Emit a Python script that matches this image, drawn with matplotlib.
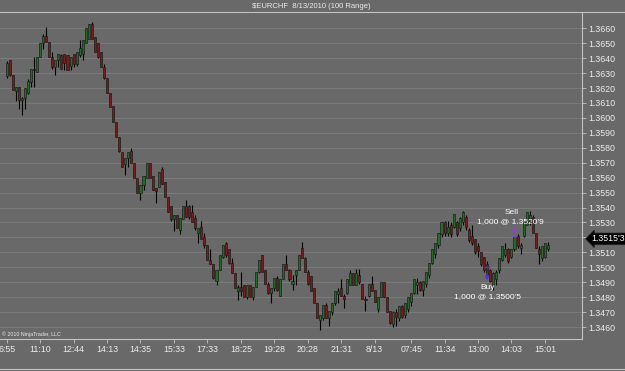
import numpy as np
import matplotlib
matplotlib.use('Agg')
import matplotlib.pyplot as plt
from matplotlib.lines import Line2D
from matplotlib.ticker import FormatStrFormatter

plt.rcParams['font.family'] = ['Liberation Sans', 'DejaVu Sans']

title = r'\$EURCHF  8/13/2010 (100 Range)'

# range bars, prices in pips (1.3637 -> 13637)
opens = [13628, 13639, 13629, 13618, 13621, 13612, 13613, 13617, 13624, 13633,
         13631, 13641, 13650, 13655, 13651, 13641, 13634, 13639, 13642, 13643,
         13642, 13635, 13643, 13636, 13642, 13643, 13650, 13653, 13663, 13654,
         13650, 13644, 13634, 13627, 13617, 13608, 13597, 13587, 13577, 13569,
         13573, 13578, 13570, 13560, 13550, 13555, 13560, 13570, 13561, 13553,
         13554, 13566, 13557, 13547, 13541, 13532, 13535, 13525, 13532, 13541,
         13541, 13537, 13533, 13523, 13527, 13520, 13515, 13505, 13502, 13491,
         13498, 13507, 13516, 13512, 13503, 13496, 13484, 13487, 13488, 13480,
         13488, 13480, 13487, 13497, 13508, 13498, 13489, 13483, 13486, 13493,
         13481, 13492, 13502, 13498, 13489, 13495, 13498, 13513, 13506, 13497,
         13494, 13486, 13476, 13465, 13466, 13475, 13466, 13470, 13476, 13482,
         13486, 13481, 13483, 13488, 13496, 13488, 13495, 13489, 13479, 13481,
         13489, 13485, 13472, 13480, 13490, 13480, 13471, 13462, 13470, 13466,
         13474, 13468, 13472, 13477, 13483, 13488, 13490, 13485, 13489, 13495,
         13503, 13509, 13515, 13522, 13530, 13523, 13528, 13527, 13530, 13526,
         13530, 13534, 13525, 13521, 13519, 13514, 13510, 13507, 13502, 13498,
         13488, 13492, 13498, 13505, 13508, 13512, 13507, 13512, 13521, 13513,
         13521, 13528, 13531, 13534, 13523, 13512, 13506, 13507, 13512]
highs = [13638, 13639, 13629, 13621, 13621, 13614, 13620, 13626, 13633, 13641,
         13641, 13650, 13656, 13661, 13651, 13644, 13639, 13643, 13643, 13643,
         13642, 13641, 13643, 13644, 13652, 13652, 13660, 13663, 13664, 13654,
         13650, 13644, 13636, 13627, 13617, 13608, 13597, 13587, 13577, 13573,
         13577, 13580, 13570, 13560, 13555, 13561, 13570, 13570, 13561, 13553,
         13564, 13567, 13557, 13547, 13541, 13535, 13535, 13533, 13541, 13545,
         13542, 13542, 13535, 13526, 13531, 13523, 13515, 13512, 13502, 13498,
         13508, 13515, 13517, 13512, 13506, 13496, 13488, 13497, 13488, 13488,
         13488, 13487, 13497, 13505, 13508, 13498, 13490, 13486, 13493, 13494,
         13492, 13502, 13508, 13499, 13495, 13498, 13508, 13517, 13507, 13498,
         13494, 13486, 13476, 13468, 13475, 13476, 13471, 13476, 13484, 13486,
         13492, 13482, 13492, 13498, 13496, 13499, 13499, 13489, 13481, 13489,
         13494, 13485, 13480, 13490, 13490, 13480, 13471, 13471, 13472, 13474,
         13475, 13476, 13480, 13483, 13492, 13493, 13491, 13491, 13497, 13503,
         13512, 13516, 13523, 13530, 13531, 13531, 13530, 13536, 13531, 13534,
         13538, 13535, 13526, 13528, 13519, 13516, 13510, 13507, 13504, 13499,
         13497, 13498, 13506, 13514, 13516, 13513, 13512, 13521, 13522, 13516,
         13530, 13537, 13538, 13535, 13523, 13514, 13514, 13516, 13517]
lows = [13627, 13628, 13619, 13611, 13606, 13602, 13606, 13616, 13621, 13621,
        13631, 13641, 13646, 13651, 13641, 13633, 13629, 13634, 13633, 13632,
        13632, 13632, 13634, 13635, 13641, 13639, 13650, 13653, 13653, 13644,
        13640, 13634, 13626, 13617, 13607, 13597, 13587, 13577, 13567, 13562,
        13567, 13570, 13560, 13550, 13545, 13552, 13560, 13560, 13552, 13543,
        13554, 13556, 13547, 13537, 13531, 13524, 13526, 13522, 13532, 13534,
        13532, 13530, 13525, 13516, 13519, 13513, 13505, 13502, 13492, 13488,
        13498, 13506, 13507, 13502, 13496, 13486, 13478, 13481, 13480, 13479,
        13480, 13478, 13487, 13496, 13497, 13489, 13482, 13476, 13484, 13484,
        13481, 13492, 13498, 13491, 13485, 13488, 13498, 13506, 13497, 13488,
        13484, 13476, 13466, 13458, 13465, 13466, 13461, 13468, 13475, 13476,
        13481, 13473, 13482, 13488, 13488, 13488, 13489, 13479, 13471, 13480,
        13484, 13477, 13470, 13480, 13480, 13470, 13462, 13460, 13461, 13464,
        13466, 13466, 13470, 13474, 13482, 13482, 13484, 13481, 13487, 13493,
        13502, 13506, 13513, 13520, 13521, 13521, 13520, 13526, 13521, 13524,
        13528, 13525, 13517, 13515, 13509, 13507, 13501, 13497, 13494, 13490,
        13485, 13488, 13496, 13504, 13507, 13503, 13506, 13511, 13513, 13509,
        13520, 13528, 13528, 13523, 13513, 13502, 13504, 13506, 13511]
closes = [13637, 13629, 13619, 13621, 13612, 13613, 13620, 13625, 13633, 13632,
          13641, 13650, 13655, 13651, 13641, 13634, 13639, 13643, 13633, 13637,
          13632, 13641, 13636, 13644, 13647, 13652, 13660, 13663, 13653, 13644,
          13641, 13634, 13627, 13617, 13607, 13597, 13587, 13578, 13567, 13573,
          13577, 13570, 13560, 13550, 13555, 13561, 13570, 13560, 13552, 13551,
          13564, 13556, 13547, 13537, 13532, 13535, 13526, 13533, 13541, 13534,
          13534, 13530, 13526, 13526, 13519, 13515, 13505, 13502, 13493, 13498,
          13508, 13515, 13508, 13503, 13496, 13486, 13487, 13484, 13480, 13488,
          13480, 13487, 13497, 13505, 13497, 13489, 13483, 13486, 13493, 13485,
          13492, 13502, 13498, 13492, 13491, 13498, 13508, 13506, 13497, 13489,
          13484, 13476, 13466, 13468, 13475, 13466, 13471, 13476, 13484, 13484,
          13481, 13479, 13492, 13496, 13488, 13496, 13490, 13479, 13478, 13489,
          13484, 13477, 13480, 13490, 13480, 13470, 13463, 13470, 13467, 13474,
          13467, 13476, 13480, 13483, 13492, 13490, 13485, 13491, 13497, 13503,
          13512, 13516, 13523, 13530, 13523, 13527, 13522, 13536, 13522, 13533,
          13537, 13527, 13518, 13516, 13510, 13511, 13502, 13498, 13494, 13491,
          13496, 13497, 13506, 13514, 13512, 13504, 13512, 13521, 13514, 13515,
          13530, 13537, 13535, 13523, 13513, 13509, 13514, 13516, 13515]

tick_bars = [0, 11, 22, 33, 44, 55, 66, 77, 88, 99, 110, 121, 133, 144, 155, 166, 177]
tick_labels = ['6:55', '11:10', '12:44', '14:13', '14:35', '15:33', '17:33', '18:25',
               '19:28', '20:28', '21:31', '8/13', '07:45', '11:34', '13:00', '14:03', '15:01']

buy_bar, buy_price = 158, 1.35005
sell_bar, sell_price = 167, 1.35209
last_price = 1.35153

bg = '#696969'
light = '#c4c4c4'
txt = '#ececec'

o = np.array(opens) / 10000
h = np.array(highs) / 10000
l = np.array(lows) / 10000
c = np.array(closes) / 10000
x = np.arange(len(c))
cols = np.where(c >= o, '#266a2a', '#7a1c1c')

fig = plt.figure(figsize=(6.25, 3.71), dpi=100, facecolor=bg)
ax = fig.add_axes([0.0, 1 - 339 / 371, 582 / 625, (339 - 12) / 371])
ax.set_facecolor(bg)

ax.vlines(x, l, h, color='black', lw=0.8, zorder=2)
ax.bar(x, np.maximum(np.abs(c - o), 0.00003), bottom=np.minimum(o, c), width=0.68,
       color=cols, edgecolor='#111111', linewidth=0.4, zorder=3)

ax.set_xlim(-2.2, 189.2)
ax.set_ylim(1.34520, 1.36709)
ax.set_yticks(np.arange(1.3460, 1.36605, 0.001))
ax.yaxis.set_major_formatter(FormatStrFormatter('%.4f'))
ax.yaxis.tick_right()
ax.set_xticks(tick_bars)
ax.set_xticklabels(tick_labels)
ax.grid(axis='y', color='#7b7b7b', lw=0.7)
ax.set_axisbelow(True)
ax.tick_params(axis='both', colors=light, labelcolor=txt, labelsize=6.3,
               length=3, width=0.6, pad=1.5)

ax.spines['left'].set_visible(False)
ax.spines['top'].set_visible(False)
for s in ['bottom', 'right']:
    ax.spines[s].set_color(light)
    ax.spines[s].set_linewidth(0.8)

fig.add_artist(Line2D([0, 1], [1 - 12 / 371] * 2, transform=fig.transFigure, color=light, lw=0.8))
fig.add_artist(Line2D([0, 1], [1 - 369 / 371] * 2, transform=fig.transFigure, color=light, lw=0.8))
fig.text(0.498, 1 - 6 / 371, title, ha='center', va='center', fontsize=5.5, color=txt)

ax.text(0.004, 0.006, '\u00a9 2010 NinjaTrader, LLC', transform=ax.transAxes,
        fontsize=3.8, color=txt, ha='left', va='bottom')

# executions
ax.plot(buy_bar, buy_price, marker='_', color='#3a3af0', ms=4, mew=1, zorder=4)
ax.annotate('', xy=(buy_bar, buy_price), xytext=(0, -10), textcoords='offset points',
            arrowprops=dict(arrowstyle='<|-', color='#3a3af0', lw=1, mutation_scale=5,
                            shrinkA=0, shrinkB=5), zorder=4)
ax.annotate('Buy', xy=(buy_bar, buy_price), xytext=(0, -15), textcoords='offset points',
            ha='center', va='center', fontsize=6, color='white')
ax.annotate('1,000 @ 1.3500\'5', xy=(buy_bar, buy_price), xytext=(0, -21.5),
            textcoords='offset points', ha='center', va='center', fontsize=6, color='white')

ax.plot(sell_bar, sell_price, marker='_', color='#8a45c8', ms=4, mew=1, zorder=4)
ax.annotate('', xy=(sell_bar, sell_price), xytext=(0, 7), textcoords='offset points',
            arrowprops=dict(arrowstyle='-|>', color='#8a45c8', lw=1, mutation_scale=5,
                            shrinkA=0, shrinkB=1), zorder=4)
ax.annotate('Sell', xy=(sell_bar, sell_price), xytext=(-2, 17), textcoords='offset points',
            ha='center', va='center', fontsize=6, color='white')
ax.annotate('1,000 @ 1.3520\'9', xy=(sell_bar, sell_price), xytext=(-3, 10.5),
            textcoords='offset points', ha='center', va='center', fontsize=6, color='white')

# last price marker on the price axis
ax.annotate("1.3515'3", xy=(1, last_price), xycoords=('axes fraction', 'data'),
            xytext=(7, 4), textcoords='offset points', ha='left', va='center',
            fontsize=6.3, color='white', annotation_clip=False, zorder=6,
            bbox=dict(boxstyle='larrow,pad=0.15', fc='black', ec='#222222', lw=0.5))

fig.savefig('out.png', dpi=100, facecolor=bg)
